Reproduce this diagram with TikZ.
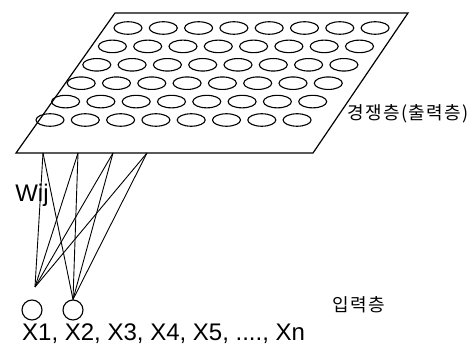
\documentclass[tikz,border=0pt]{standalone}
\usepackage{fontspec}
\setmainfont{Liberation Sans}
\newfontfamily\kofont[LetterSpace=8]{Noto Sans CJK KR}
\usetikzlibrary{shapes.geometric, positioning}

\begin{document}
\begin{tikzpicture}[
  x=1pt, y=-1pt,
  cell/.style = {ellipse, draw, line width=1.1pt, minimum width=28pt,
                 minimum height=12.5pt, inner sep=0pt},
  unit/.style = {circle, draw, line width=1.1pt, minimum size=20pt, inner sep=0pt},
  wire/.style = {line width=0.9pt},
  lbl/.style  = {font=\fontsize{24}{28}\selectfont, inner sep=0pt},
  klbl/.style = {font=\kofont\fontsize{18}{22}\selectfont, inner sep=0pt}
]
\useasboundingbox (0,0) rectangle (474,347);

% Output layer (plane of units)
\coordinate (tl) at (115,13);
\coordinate (tr) at (408,13);
\coordinate (br) at (313,153);
\coordinate (bl) at (16,153);
\draw[line width=1.2pt] (tl) -- (tr) -- (br) -- (bl) -- cycle;

\foreach \r in {0,...,5}
  \foreach \c in {0,...,7}
    \node[cell] (o-\r-\c) at ({128-15.6*\r+35.3*\c},{28+18.4*\r}) {};

\node[klbl, anchor=west] (outlbl) at (347,114) {경쟁층(출력층)};

% Input layer
\node[unit] (x1) at (32,310) {};
\node[unit] (x2) at (73,310) {};
\coordinate (x1in) at (35,287);

\node[lbl, anchor=base west] (xs) at (22,341) {X1, X2, X3, X4, X5, ...., Xn};
\node[klbl] (inlbl) at (359,305) {입력층};

% Weights
\foreach \t/\xx in {1/43,2/78,3/113,4/147}
  \coordinate (w\t) at (\xx,153);
\foreach \t in {1,...,4}{
  \draw[wire] (w\t) -- (x1in);
  \draw[wire] (w\t) -- (x2.north);
}
\node[lbl] (wij) at (32,195) {Wij};

\end{tikzpicture}
\end{document}
